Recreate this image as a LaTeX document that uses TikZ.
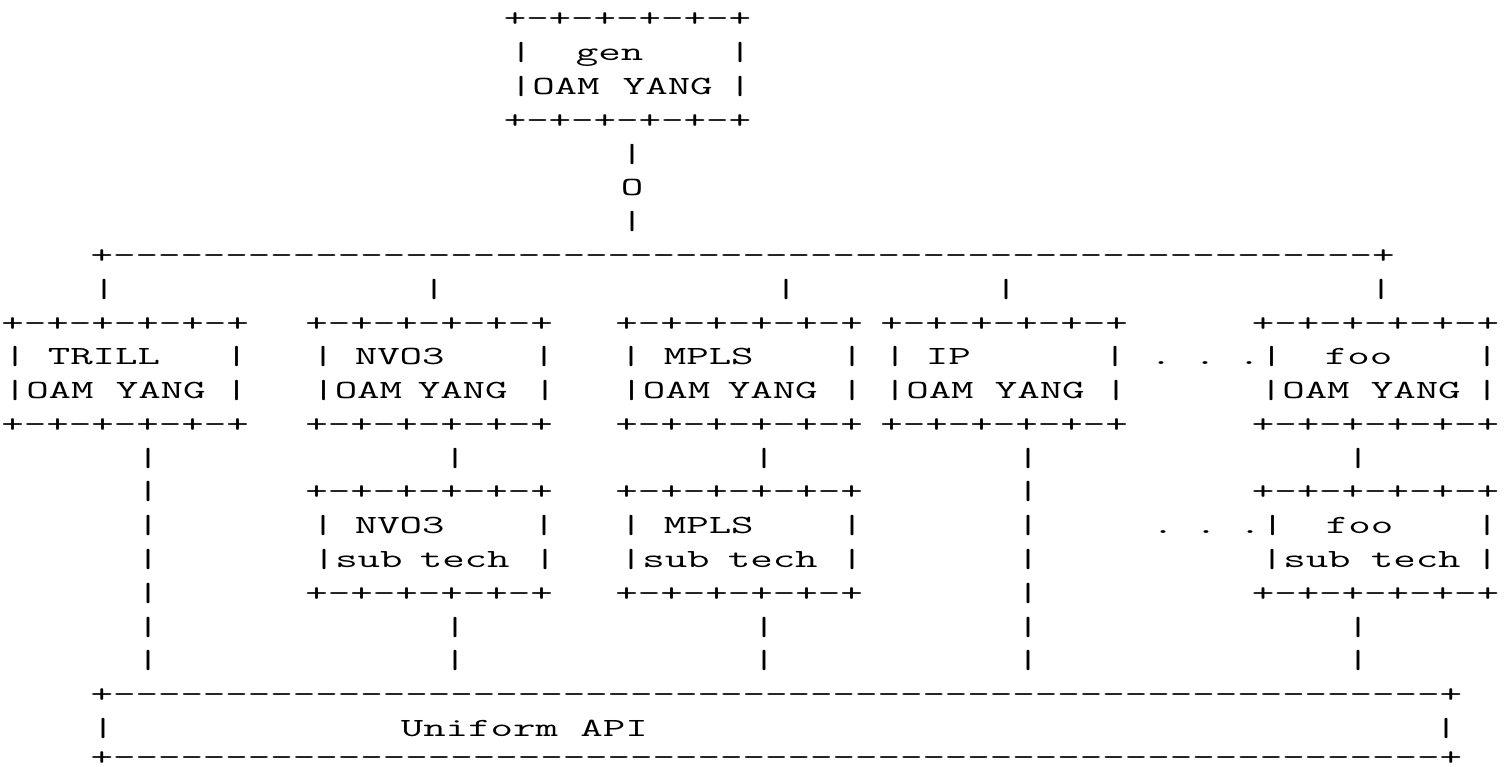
\documentclass[tikz,border=0pt]{standalone}
\usepackage{graphicx}
\newcommand\asc{\ttfamily\fontsize{26.2}{30}\selectfont}
\newcommand\dashrun[1]{\foreach\k in {1,...,#1}{-\kern0pt}}
\tikzset{w/.style={anchor=base west, inner sep=0pt, outer sep=0pt, font=\asc, text=black}}
% #1 name, #2 x of first character centre, #3 row, #4 text
\newcommand\W[4]{\node[w] (#1) at ({#2-11.225},{-(17+33.78*#3)-10}) {\scalebox{1.6664}[1]{#4}};}
\begin{document}
\begin{tikzpicture}[x=1pt,y=1pt]
\useasboundingbox (0,0) rectangle (1508,-767);
% gen box
\W{gtop}{515}{0}{+-+-+-+-+-+}
\W{gla}{521}{1}{|}\W{glb}{587}{1}{gen}\W{glc}{740}{1}{|}
\W{gma}{521}{2}{|OAM}\W{gmb}{634}{2}{YANG}\W{gmc}{740}{2}{|}
\W{gbot}{515}{3}{+-+-+-+-+-+}
\W{va}{632}{4}{|}
\W{oo}{632}{5}{O}
\W{vb}{632}{6}{|}
% top bus
\W{bus}{101.8}{7}{+\dashrun{56}+}
\W{d1}{104}{8}{|}\W{d2}{434}{8}{|}\W{d3}{786}{8}{|}\W{d4}{1006}{8}{|}\W{d5}{1381}{8}{|}
% upper boxes: tops
\W{tt}{12.7}{9}{+-+-+-+-+-+}\W{nt}{316.7}{9}{+-+-+-+-+-+}\W{mt}{626.7}{9}{+-+-+-+-+-+}
\W{it}{891.7}{9}{+-+-+-+-+-+}\W{ft}{1263}{9}{+-+-+-+-+-+}
% name row
\W{t1a}{15}{10}{|}\W{t1b}{59}{10}{TRILL}\W{t1c}{236.7}{10}{|}
\W{n1a}{323}{10}{|}\W{n1b}{366}{10}{NVO3}\W{n1c}{544}{10}{|}
\W{m1a}{631}{10}{|}\W{m1b}{675}{10}{MPLS}\W{m1c}{852}{10}{|}
\W{i1a}{895}{10}{|}\W{i1b}{937}{10}{IP}\W{i1c}{1115}{10}{|}
\W{p1a}{1161}{10}{.}\W{p1b}{1205}{10}{.}\W{p1c}{1249}{10}{.|}
\W{f1b}{1336}{10}{foo}\W{f1c}{1487}{10}{|}
% OAM YANG row
\W{t2a}{15}{11}{|OAM}\W{t2b}{127}{11}{YANG}\W{t2c}{236.7}{11}{|}
\W{n2a}{323.5}{11}{|OAM}\W{n2b}{429}{11}{YANG}\W{n2c}{545}{11}{|}
\W{m2a}{631.7}{11}{|OAM}\W{m2b}{739}{11}{YANG}\W{m2c}{852}{11}{|}
\W{i2a}{895}{11}{|OAM}\W{i2b}{1006}{11}{YANG}\W{i2c}{1116}{11}{|}
\W{f2a}{1271}{11}{|OAM}\W{f2b}{1382}{11}{YANG}\W{f2c}{1487}{11}{|}
% upper boxes: bottoms
\W{tb}{12.7}{12}{+-+-+-+-+-+}\W{nb}{316.7}{12}{+-+-+-+-+-+}\W{mb}{626.7}{12}{+-+-+-+-+-+}
\W{ib}{891.7}{12}{+-+-+-+-+-+}\W{fb}{1263}{12}{+-+-+-+-+-+}
% links
\W{e1}{148}{13}{|}\W{e2}{455}{13}{|}\W{e3}{764}{13}{|}\W{e4}{1028}{13}{|}\W{e5}{1358}{13}{|}
% sub boxes: tops
\W{g1}{148}{14}{|}\W{nst}{316.7}{14}{+-+-+-+-+-+}\W{mst}{626.7}{14}{+-+-+-+-+-+}
\W{g4}{1028}{14}{|}\W{fst}{1263}{14}{+-+-+-+-+-+}
% sub names
\W{h1}{148}{15}{|}
\W{n3a}{323}{15}{|}\W{n3b}{366}{15}{NVO3}\W{n3c}{544}{15}{|}
\W{m3a}{631}{15}{|}\W{m3b}{675}{15}{MPLS}\W{m3c}{852}{15}{|}
\W{h4}{1028}{15}{|}
\W{p3a}{1163}{15}{.}\W{p3b}{1206}{15}{.}\W{p3c}{1250}{15}{.|}
\W{f3b}{1337}{15}{foo}\W{f3c}{1487}{15}{|}
% sub tech row
\W{k1}{148}{16}{|}
\W{n4a}{324}{16}{|sub}\W{n4b}{431}{16}{tech}\W{n4c}{545}{16}{|}
\W{m4a}{631}{16}{|sub}\W{m4b}{739}{16}{tech}\W{m4c}{852}{16}{|}
\W{k4}{1028}{16}{|}
\W{f4a}{1272}{16}{|sub}\W{f4b}{1382}{16}{tech}\W{f4c}{1487}{16}{|}
% sub boxes: bottoms
\W{l1}{148}{17}{|}\W{nsb}{316.7}{17}{+-+-+-+-+-+}\W{msb}{626.7}{17}{+-+-+-+-+-+}
\W{l4}{1028}{17}{|}\W{fsb}{1263}{17}{+-+-+-+-+-+}
% links to API
\W{q1}{148}{18}{|}\W{q2}{455}{18}{|}\W{q3}{764}{18}{|}\W{q4}{1028}{18}{|}\W{q5}{1358}{18}{|}
\W{r1}{148}{19}{|}\W{r2}{455}{19}{|}\W{r3}{764}{19}{|}\W{r4}{1028}{19}{|}\W{r5}{1358}{19}{|}
% Uniform API box
\W{apit}{101.8}{20}{+\dashrun{59}+}
\W{apia}{103}{21}{|}\W{apib}{412}{21}{Uniform}\W{apic}{591.6}{21}{API}\W{apid}{1446}{21}{|}
\W{apib2}{101.8}{21.85}{+\dashrun{59}+}
\end{tikzpicture}
\end{document}
